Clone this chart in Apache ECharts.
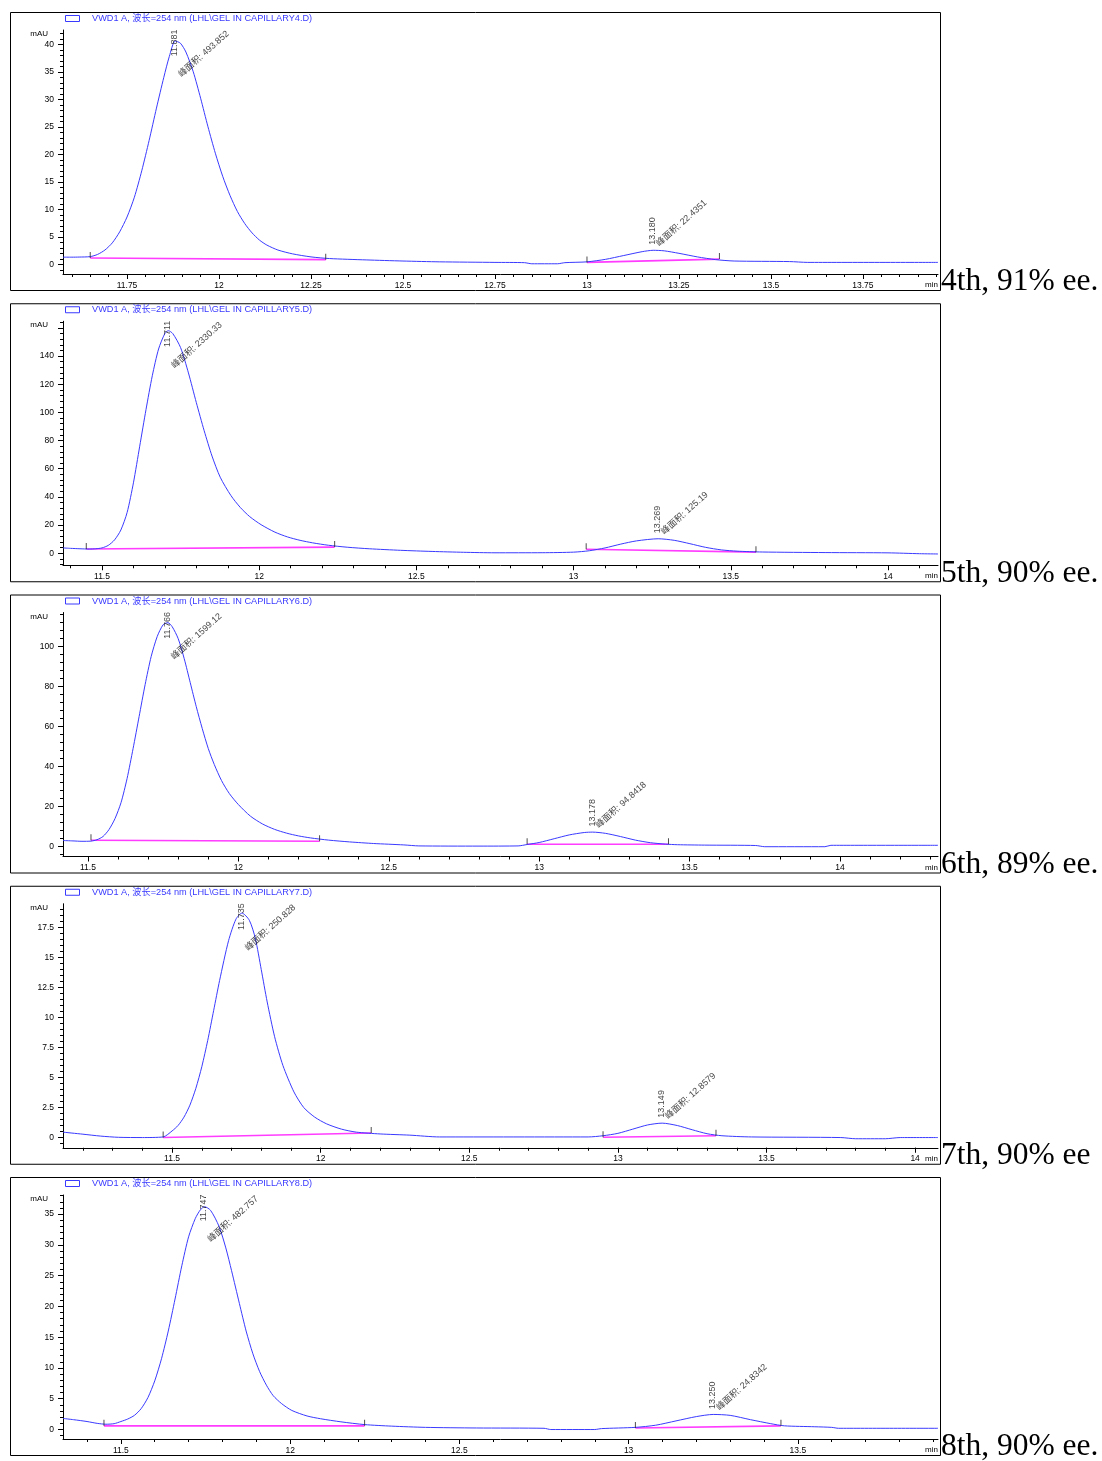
<!DOCTYPE html>
<html><head><meta charset="utf-8">
<script src="https://cdn.jsdelivr.net/npm/echarts@6/dist/echarts.min.js"></script>
<style>html,body{margin:0;padding:0;background:#fff}#c{width:1102px;height:1461px}</style>
</head><body><div id="c"></div>
<script>
// ---------- data ----------
const sideLabels = ['4th, 91% ee.', '5th, 90% ee.', '6th, 89% ee.', '7th, 90% ee', '8th, 90% ee.'];
const fileNames = ['CAPILLARY4.D', 'CAPILLARY5.D', 'CAPILLARY6.D', 'CAPILLARY7.D', 'CAPILLARY8.D'];

const xTicks4 = [11.75, 12, 12.25, 12.5, 12.75, 13, 13.25, 13.5, 13.75];
const yTicks4 = [0, 5, 10, 15, 20, 25, 30, 35, 40];
const xTicks5 = [11.5, 12, 12.5, 13, 13.5, 14];
const yTicks5 = [0, 20, 40, 60, 80, 100, 120, 140, 160];
const yLabels5 = [0, 20, 40, 60, 80, 100, 120, 140];
const xTicks6 = [11.5, 12, 12.5, 13, 13.5, 14];
const yTicks6 = [0, 20, 40, 60, 80, 100];
const xTicks7 = [11.5, 12, 12.5, 13, 13.5, 14];
const yTicks7 = [0, 2.5, 5, 7.5, 10, 12.5, 15, 17.5];
const xTicks8 = [11.5, 12, 12.5, 13, 13.5];
const yTicks8 = [0, 5, 10, 15, 20, 25, 30, 35];

// [retention time, height, area]
const peaks4 = [[11.881, 40.6, '493.852'], [13.180, 2.55, '22.4351']];
const peaks5 = [[11.711, 158, '2330.33'], [13.269, 10.3, '125.19']];
const peaks6 = [[11.766, 112, '1599.12'], [13.178, 7.2, '94.8418']];
const peaks7 = [[11.735, 18.7, '250.828'], [13.149, 1.2, '12.8579']];
const peaks8 = [[11.747, 36.2, '482.757'], [13.250, 2.45, '24.8342']];

const signal4 = [[11.576,1.30],[11.60,1.30],[11.62,1.32],[11.65,1.40],[11.67,1.8],[11.69,2.6],[11.71,3.9],[11.73,5.9],[11.75,8.6],[11.77,12.2],[11.79,17.0],[11.81,22.5],[11.83,28.4],[11.85,34.0],[11.865,37.8],[11.881,40.6],[11.895,40.2],[11.91,38.6],[11.93,35.0],[11.95,30.2],[11.97,25.0],[11.99,20.2],[12.01,16.0],[12.03,12.5],[12.05,9.6],[12.07,7.4],[12.09,5.7],[12.11,4.4],[12.13,3.5],[12.16,2.6],[12.20,1.9],[12.25,1.35],[12.30,1.05],[12.40,0.8],[12.50,0.6],[12.60,0.45],[12.75,0.35],[12.83,0.3],[12.85,0.1],[12.92,0.1],[12.94,0.3],[13.00,0.45],[13.05,0.9],[13.10,1.6],[13.15,2.3],[13.18,2.55],[13.21,2.45],[13.25,2.0],[13.30,1.35],[13.35,0.85],[13.40,0.6],[13.55,0.5],[13.60,0.35],[13.954,0.35]];
const signal5 = [[11.376,3.8],[11.40,3.5],[11.43,3.2],[11.46,3.0],[11.48,3.2],[11.50,3.8],[11.52,5.6],[11.54,9.5],[11.56,16.5],[11.58,29],[11.60,50],[11.62,76],[11.64,102],[11.66,126],[11.68,145],[11.70,156],[11.711,158],[11.725,156],[11.75,146],[11.775,128],[11.80,107],[11.825,87],[11.85,69],[11.876,54],[11.91,41],[11.94,32.5],[11.97,26],[12.006,20.3],[12.05,15],[12.09,11.6],[12.13,9.2],[12.17,7.4],[12.22,5.7],[12.28,4.3],[12.35,3.2],[12.45,2.1],[12.55,1.3],[12.65,0.7],[12.75,0.35],[12.90,0.4],[13.00,0.8],[13.05,1.8],[13.10,3.8],[13.15,6.5],[13.20,8.8],[13.269,10.3],[13.32,9.2],[13.37,6.8],[13.42,4.2],[13.47,2.4],[13.52,1.5],[13.60,0.9],[13.80,0.5],[14.00,0.3],[14.10,-0.3],[14.159,-0.5]];
const signal6 = [[11.417,3.0],[11.45,2.8],[11.48,2.6],[11.51,2.7],[11.53,3.4],[11.55,5.0],[11.57,8.5],[11.59,14],[11.61,22],[11.63,34],[11.65,49],[11.67,65],[11.69,81],[11.71,95],[11.73,105],[11.75,111],[11.766,112],[11.78,110],[11.80,104],[11.82,94],[11.84,82],[11.86,70],[11.88,59],[11.90,49],[11.92,41],[11.944,33],[11.97,26.5],[12.00,21],[12.04,15.2],[12.08,11.3],[12.12,8.6],[12.16,6.7],[12.20,5.3],[12.24,4.3],[12.30,3.2],[12.37,2.3],[12.45,1.5],[12.55,0.8],[12.60,0.3],[12.80,0.2],[12.93,0.3],[12.96,1.0],[13.00,2.0],[13.05,3.9],[13.10,5.8],[13.15,7.0],[13.178,7.2],[13.22,6.6],[13.27,5.0],[13.32,3.2],[13.37,1.9],[13.42,1.2],[13.46,0.9],[13.55,0.7],[13.72,0.5],[13.75,-0.1],[13.95,-0.1],[13.97,0.6],[14.326,0.6]];
const signal7 = [[11.133,0.45],[11.20,0.28],[11.26,0.12],[11.32,0.02],[11.40,0.0],[11.47,0.05],[11.50,0.55],[11.52,1.0],[11.54,1.7],[11.56,2.7],[11.58,4.1],[11.60,5.9],[11.62,8.1],[11.64,10.6],[11.66,13.1],[11.69,16.4],[11.715,18.2],[11.735,18.7],[11.76,18.1],[11.78,16.6],[11.80,14.0],[11.82,11.3],[11.845,8.4],[11.873,6.0],[11.91,3.8],[11.943,2.5],[11.98,1.7],[12.02,1.14],[12.07,0.7],[12.12,0.45],[12.20,0.3],[12.30,0.2],[12.40,0.05],[12.90,0.05],[12.95,0.15],[13.00,0.35],[13.05,0.7],[13.10,1.05],[13.149,1.2],[13.20,1.0],[13.25,0.65],[13.30,0.32],[13.35,0.15],[13.45,0.05],[13.75,0.0],[13.80,-0.1],[13.90,-0.1],[13.95,0.0],[14.077,0.0]];
const signal8 = [[11.329,1.8],[11.36,1.6],[11.40,1.3],[11.43,1.0],[11.456,0.86],[11.48,0.95],[11.50,1.3],[11.52,1.7],[11.54,2.3],[11.56,3.4],[11.58,5.2],[11.60,7.9],[11.62,11.5],[11.64,16.0],[11.66,21.2],[11.68,26.6],[11.70,31.3],[11.72,34.3],[11.735,35.7],[11.747,36.2],[11.765,35.6],[11.79,33.0],[11.81,29.5],[11.827,25.8],[11.85,20.5],[11.87,16.0],[11.89,12.3],[11.91,9.4],[11.93,7.2],[11.95,5.5],[11.975,4.2],[12.005,3.1],[12.05,2.2],[12.09,1.75],[12.15,1.25],[12.22,0.8],[12.30,0.55],[12.40,0.35],[12.55,0.25],[12.75,0.2],[12.77,0.0],[12.90,0.0],[12.92,0.15],[13.02,0.35],[13.08,0.7],[13.14,1.4],[13.20,2.1],[13.25,2.45],[13.30,2.3],[13.36,1.6],[13.42,0.95],[13.46,0.6],[13.55,0.45],[13.60,0.35],[13.62,0.2],[13.914,0.2]];

// integration baselines
const base4 = [[[11.65,1.15],[12.29,0.85]], [[13.00,0.35],[13.36,0.95]]];
const base5 = [[[11.45,3.0],[12.24,4.4]], [[13.04,2.9],[13.58,0.8]]];
const base6 = [[[11.51,3.1],[12.27,2.6]], [[12.96,1.1],[13.43,1.1]]];
const base7 = [[[11.47,0.0],[12.17,0.38]], [[12.95,0.02],[13.33,0.15]]];
const base8 = [[[11.45,0.6],[12.22,0.6]], [[13.02,0.25],[13.45,0.6]]];

// ---------- layout / style ----------
const panels = [
  {sig: signal4, base: base4, peaks: peaks4, xr: [11.576, 13.954], yr: [-1.76, 42.6], xt: xTicks4, yt: yTicks4, yl: yTicks4, xm: 0.05, ym: 1},
  {sig: signal5, base: base5, peaks: peaks5, xr: [11.376, 14.159], yr: [-8.5, 164.7], xt: xTicks5, yt: yTicks5, yl: yLabels5, xm: 0.1, ym: 4},
  {sig: signal6, base: base6, peaks: peaks6, xr: [11.417, 14.326], yr: [-5.0, 117.1], xt: xTicks6, yt: yTicks6, yl: yTicks6, xm: 0.1, ym: 4},
  {sig: signal7, base: base7, peaks: peaks7, xr: [11.133, 14.077], yr: [-0.85, 19.48], xt: xTicks7, yt: yTicks7, yl: yTicks7, xm: 0.1, ym: 0.5},
  {sig: signal8, base: base8, peaks: peaks8, xr: [11.329, 13.914], yr: [-1.54, 38.1], xt: xTicks8, yt: yTicks8, yl: yTicks8, xm: 0.1, ym: 1}
];

const FONT = "'Liberation Sans', Arial, 'Noto Sans CJK SC', sans-serif";
const BLUE = '#3a3aff';
const PINK = '#ff3cff';
const PLOT_L = 63, PLOT_W = 875;

function stepValues(a, b, s) {
  const r = [];
  for (let i = Math.ceil(a / s - 1e-9); i * s <= b + 1e-9; i++) r.push(+(i * s).toFixed(4));
  return r;
}

const grids = [], xAxes = [], yAxes = [], series = [], graphics = [];

panels.forEach((p, k) => {
  const boxTop = 12 + k * 291.25;
  const gTop = boxTop + 18;
  grids.push({left: PLOT_L, top: gTop, width: PLOT_W, height: 244});

  const common = {type: 'value', gridIndex: k, splitLine: {show: false}, animation: false};
  xAxes.push(Object.assign({}, common, {
    min: p.xr[0], max: p.xr[1], position: 'bottom',
    axisLine: {show: true, onZero: false, lineStyle: {color: '#000', width: 1}},
    axisTick: {show: true, customValues: p.xt, length: 5, lineStyle: {color: '#000'}},
    axisLabel: {show: true, customValues: p.xt, fontSize: 8.5, color: '#000', margin: 7, fontFamily: FONT}
  }));
  xAxes.push(Object.assign({}, common, {
    min: p.xr[0], max: p.xr[1], position: 'bottom',
    axisLine: {show: false, onZero: false},
    axisTick: {show: true, customValues: stepValues(p.xr[0], p.xr[1], p.xm), length: 3, lineStyle: {color: '#000'}},
    axisLabel: {show: false}
  }));
  yAxes.push(Object.assign({}, common, {
    min: p.yr[0], max: p.yr[1], position: 'left',
    axisLine: {show: true, onZero: false, lineStyle: {color: '#000', width: 1}},
    axisTick: {show: true, customValues: p.yt, length: 5, lineStyle: {color: '#000'}},
    axisLabel: {show: true, customValues: p.yl, fontSize: 8.5, color: '#000', margin: 9, fontFamily: FONT}
  }));
  yAxes.push(Object.assign({}, common, {
    min: p.yr[0], max: p.yr[1], position: 'left',
    axisLine: {show: false, onZero: false},
    axisTick: {show: true, customValues: stepValues(p.yr[0], p.yr[1], p.ym), length: 3, lineStyle: {color: '#000'}},
    axisLabel: {show: false}
  }));
  const xi = 2 * k, yi = 2 * k;

  p.base.forEach(seg => {
    series.push({type: 'line', xAxisIndex: xi, yAxisIndex: yi, data: seg, symbol: 'none', silent: true,
      lineStyle: {color: PINK, width: 1.6}, z: 2});
  });
  series.push({type: 'line', xAxisIndex: xi, yAxisIndex: yi, data: p.sig, symbol: 'none', smooth: 0.25,
    silent: true, lineStyle: {color: BLUE, width: 1}, z: 3});
  const ends = [];
  p.base.forEach(seg => { ends.push(seg[0], seg[1]); });
  series.push({type: 'scatter', xAxisIndex: xi, yAxisIndex: yi, data: ends, symbol: 'rect',
    symbolSize: [1, 6], symbolOffset: [0, -3], itemStyle: {color: '#222'}, silent: true, z: 4});
  const yMax = p.yr[1];
  const items = [];
  p.peaks.forEach((pk, i) => {
    const main = i === 0;
    const anchor = main ? [pk[0], yMax] : [pk[0], pk[1]];
    items.push({value: anchor, label: {formatter: pk[0].toFixed(3), rotate: 90,
      position: main ? [0, 0] : [0, -5], align: main ? 'right' : 'left', verticalAlign: 'middle'}});
    items.push({value: anchor, label: {formatter: '峰面积: ' + pk[2], rotate: 42,
      position: main ? [53, 3] : [5, -5], align: main ? 'right' : 'left', verticalAlign: 'middle'}});
  });
  series.push({type: 'scatter', xAxisIndex: xi, yAxisIndex: yi, data: items, symbolSize: 1, clip: false,
    itemStyle: {color: 'rgba(0,0,0,0)'}, silent: true, z: 5,
    label: {show: true, color: '#111', fontSize: 9, fontFamily: FONT}});

  graphics.push({type: 'rect', shape: {x: 10.5, y: boxTop + 0.5, width: 930, height: 278},
    style: {fill: 'none', stroke: '#000', lineWidth: 1}, silent: true});
  graphics.push({type: 'rect', shape: {x: 65.5, y: boxTop + 3.5, width: 14, height: 6},
    style: {fill: 'none', stroke: BLUE, lineWidth: 1}, silent: true});
  graphics.push({type: 'text', x: 92, y: boxTop + 6.5, silent: true,
    style: {text: 'VWD1 A, 波长=254 nm (LHL\\GEL IN ' + fileNames[k] + ')', fill: BLUE,
      font: "9.2px " + FONT, verticalAlign: 'middle', align: 'left'}});
  graphics.push({type: 'text', x: 48, y: gTop + 4, silent: true,
    style: {text: 'mAU', fill: '#000', font: "8px " + FONT, verticalAlign: 'middle', align: 'right'}});
  graphics.push({type: 'text', x: 938, y: gTop + 255, silent: true,
    style: {text: 'min', fill: '#000', font: "8px " + FONT, verticalAlign: 'middle', align: 'right'}});
  graphics.push({type: 'text', x: 941, y: boxTop + 270, silent: true,
    style: {text: sideLabels[k], fill: '#000', font: "31.5px 'Liberation Serif', 'Times New Roman', serif",
      verticalAlign: 'middle', align: 'left'}});
});

const chart = echarts.init(document.getElementById('c'), null, {renderer: 'canvas'});
chart.setOption({
  animation: false,
  backgroundColor: '#fff',
  grid: grids,
  xAxis: xAxes,
  yAxis: yAxes,
  series: series,
  graphic: graphics
});
</script>
</body></html>
